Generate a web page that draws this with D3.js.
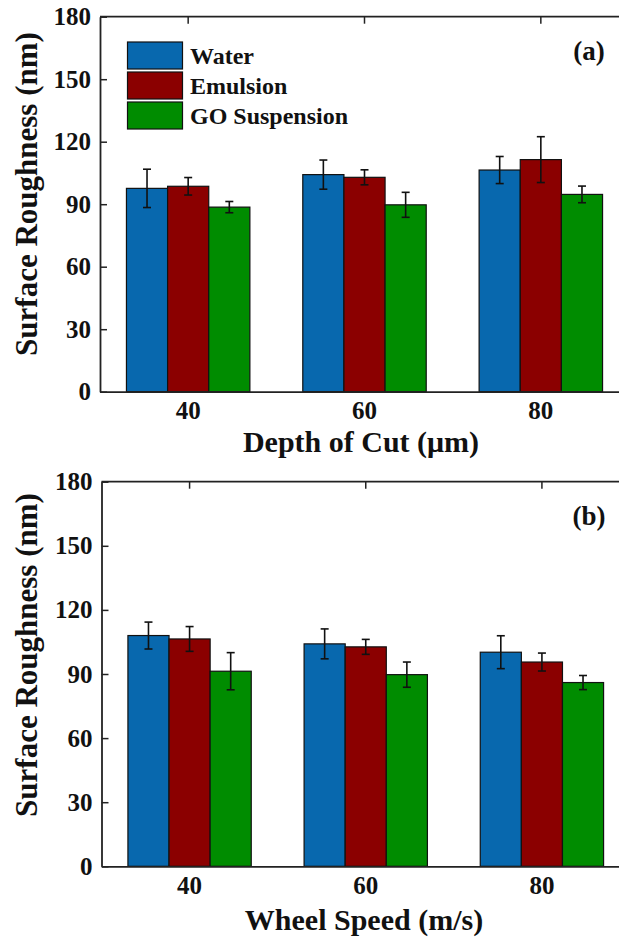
<!DOCTYPE html>
<html>
<head>
<meta charset="utf-8">
<script src="https://cdn.jsdelivr.net/npm/d3@7/dist/d3.min.js"></script>
</head>
<body style="margin:0;padding:0;background:#fff">
<svg id="chart" width="619" height="937" style="display:block"></svg>
<script>
// ---- data ----
const categories = ["40", "60", "80"];
const seriesNames = ["Water", "Emulsion", "GO Suspension"];
const seriesColors = ["#0868ae", "#8b0000", "#008c00"];
const yTicks = [0, 30, 60, 90, 120, 150, 180];

// panel (a): Depth of Cut
const depthWater = [97.6, 104.2, 106.4];
const depthWaterErr = [9.2, 7.0, 6.5];
const depthEmulsion = [98.6, 102.9, 111.4];
const depthEmulsionErr = [4.2, 3.6, 11.0];
const depthGO = [88.6, 89.7, 94.7];
const depthGOErr = [2.7, 6.0, 4.0];

// panel (b): Wheel Speed
const speedWater = [108.0, 104.1, 100.2];
const speedWaterErr = [6.3, 7.0, 7.7];
const speedEmulsion = [106.4, 102.7, 95.6];
const speedEmulsionErr = [5.8, 3.5, 4.2];
const speedGO = [91.3, 89.7, 86.0];
const speedGOErr = [8.7, 5.9, 3.3];

const FONT = "Liberation Serif";
const svg = d3.select("#chart");

function styleText(sel, size) {
  return sel.attr("font-family", FONT).attr("font-weight", "bold").attr("font-size", size)
    .attr("fill", "#111");
}

function drawPanel(opt) {
  const g = svg.append("g");
  const x0 = d3.scaleBand().domain(categories).range([opt.left, opt.right])
    .paddingInner(0.30).paddingOuter(0.15);
  const x1 = d3.scaleBand().domain(seriesNames).range([0, x0.bandwidth()]);
  const y = d3.scaleLinear().domain([0, 180]).range([opt.bottom, opt.top]);

  const rows = [];
  opt.values.forEach((vals, si) => {
    vals.forEach((v, ci) => {
      rows.push({ cat: categories[ci], s: seriesNames[si], v: v, e: opt.errs[si][ci], color: seriesColors[si] });
    });
  });

  // inward top ticks
  g.append("g").attr("transform", `translate(0,${opt.top})`)
    .call(d3.axisTop(x0).tickSizeInner(-7).tickSizeOuter(0).tickFormat(""))
    .call(a => a.select(".domain").remove())
    .call(a => a.selectAll("line").attr("stroke", "#222").attr("stroke-width", 1.5));

  // bars
  g.selectAll("rect.bar").data(rows).join("rect")
    .attr("class", "bar")
    .attr("x", d => x0(d.cat) + x1(d.s))
    .attr("y", d => y(d.v))
    .attr("width", x1.bandwidth())
    .attr("height", d => y(0) - y(d.v))
    .attr("fill", d => d.color)
    .attr("stroke", "#111")
    .attr("stroke-width", 1.2);

  // error bars
  const eb = g.selectAll("g.err").data(rows).join("g").attr("class", "err")
    .attr("stroke", "#111").attr("stroke-width", 1.6);
  eb.append("line")
    .attr("x1", d => x0(d.cat) + x1(d.s) + x1.bandwidth() / 2)
    .attr("x2", d => x0(d.cat) + x1(d.s) + x1.bandwidth() / 2)
    .attr("y1", d => y(d.v + d.e)).attr("y2", d => y(d.v - d.e));
  [1, -1].forEach(sg => {
    eb.append("line")
      .attr("x1", d => x0(d.cat) + x1(d.s) + x1.bandwidth() / 2 - 4)
      .attr("x2", d => x0(d.cat) + x1(d.s) + x1.bandwidth() / 2 + 4)
      .attr("y1", d => y(d.v + sg * d.e)).attr("y2", d => y(d.v + sg * d.e));
  });

  // left axis
  g.append("g").attr("transform", `translate(${opt.left},0)`)
    .call(d3.axisLeft(y).tickValues(yTicks).tickSizeInner(-7).tickSizeOuter(0).tickPadding(9))
    .call(a => a.attr("font-family", FONT))
    .call(a => a.select(".domain").attr("stroke", "#222").attr("stroke-width", 1.8))
    .call(a => a.selectAll("line").attr("stroke", "#222").attr("stroke-width", 1.5))
    .call(a => styleText(a.selectAll("text"), 25));

  // bottom axis
  g.append("g").attr("transform", `translate(0,${opt.bottom})`)
    .call(d3.axisBottom(x0).tickSize(0).tickPadding(10))
    .call(a => a.attr("font-family", FONT))
    .call(a => a.select(".domain").attr("stroke", "#222").attr("stroke-width", 1.8))
    .call(a => styleText(a.selectAll("text"), 25));

  // top border
  g.append("line").attr("x1", opt.left).attr("x2", opt.right)
    .attr("y1", opt.top).attr("y2", opt.top)
    .attr("stroke", "#222").attr("stroke-width", 1.8);

  // axis titles
  styleText(g.append("text").attr("transform", `translate(37,${opt.yTitleY}) rotate(-90)`)
    .attr("text-anchor", "middle"), 31).text("Surface Roughness (nm)");
  styleText(g.append("text").attr("x", opt.xTitleX).attr("y", opt.xTitleY)
    .attr("text-anchor", "middle"), 30).text(opt.xTitle);

  // panel label
  styleText(g.append("text").attr("x", 589).attr("y", opt.top + 43)
    .attr("text-anchor", "middle"), 27).text(opt.label);

  return g;
}

const gA = drawPanel({
  left: 100, right: 629, top: 16.7, bottom: 391.7,
  values: [depthWater, depthEmulsion, depthGO],
  errs: [depthWaterErr, depthEmulsionErr, depthGOErr],
  xTitle: "Depth of Cut (\u03bcm)", xTitleX: 361, xTitleY: 452, yTitleY: 194, label: "(a)"
});
drawPanel({
  left: 101.5, right: 630, top: 481.7, bottom: 866.3,
  values: [speedWater, speedEmulsion, speedGO],
  errs: [speedWaterErr, speedEmulsionErr, speedGOErr],
  xTitle: "Wheel Speed (m/s)", xTitleX: 364, xTitleY: 930, yTitleY: 655, label: "(b)"
});

// legend (panel a)
const leg = gA.append("g");
seriesNames.forEach((name, i) => {
  leg.append("rect").attr("x", 127.5).attr("y", 42 + i * 30).attr("width", 55).attr("height", 27)
    .attr("fill", seriesColors[i]).attr("stroke", "#111").attr("stroke-width", 1.2);
  styleText(leg.append("text").attr("x", 190).attr("y", 64 + i * 30), 24).text(name);
});
</script>
</body>
</html>
